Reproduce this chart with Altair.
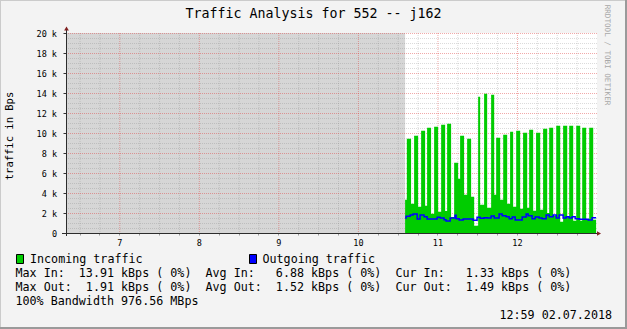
import altair as alt
import pandas as pd

MONO = "DejaVu Sans Mono"
NB = "\u00a0"

# ---- data -------------------------------------------------------------
# Incoming traffic: step start (minutes after 10:00) and value in Bps
in_minutes = [35.6, 36.9, 40.1, 42.4, 45.4, 47.7, 50.7, 52.2, 55.2, 57.5,
              60.5, 62.8, 65.8, 67.3, 70.3, 72.6, 75.6, 77.1, 80.1, 82.4,
              85.4, 87.7, 90.7, 92.2, 95.2, 97.5, 100.5, 102.8, 104.3, 107.3,
              109.6, 112.6, 114.8, 117.1, 119.4, 122.4, 124.6, 127.7, 129.2, 132.2,
              134.4, 137.5, 139.7, 142.8, 144.3, 147.3, 149.6, 152.6, 154.8, 157.9,
              159.4, 162.4, 164.7, 167.7, 169.2, 172.2, 174.5, 177.5, 179.7]
in_bps = [3330, 9430, 2930, 9730, 2630, 10230, 2730, 10530, 1930, 10630,
          2130, 10830, 2200, 10930, 1600, 7030, 5430, 9730, 3830, 9430,
          3630, 730, 13630, 2830, 13930, 2530, 13830, 3830, 9530, 3330,
          9830, 2930, 10130, 2630, 10230, 2430, 10030, 2530, 10330, 2230,
          10030, 2330, 10430, 2000, 10530, 1700, 10730, 1130, 10730, 1600,
          10730, 1230, 10730, 1230, 10530, 1400, 10530, 1330, 1330]

# Outgoing traffic: step start (minutes after 10:00) and value in Bps
out_minutes = [35.6, 36.4, 39.4, 41.6, 44.7, 46.9, 49.9, 52.2, 59.8, 62.0,
               65.0, 66.5, 69.6, 73.3, 74.1, 76.4, 79.4, 86.9, 89.9, 92.2,
               95.2, 97.5, 100.5, 102.8, 106.5, 108.8, 111.8, 114.1, 116.4, 118.6,
               123.9, 126.9, 128.4, 131.4, 133.7, 136.7, 139.0, 142.0, 144.3, 147.3,
               149.6, 151.8, 154.8, 157.1, 159.4, 161.6, 163.9, 166.9, 173.7, 176.7,
               179.7]
out_bps = [1500, 1670, 1800, 1900, 1400, 1800, 1630, 1400, 1570, 1500,
           1330, 1200, 1500, 1770, 1430, 1300, 1400, 1270, 1570, 1470,
           1530, 1500, 1700, 1500, 1900, 1730, 1630, 1430, 1600, 1300,
           1600, 1900, 1730, 1430, 1600, 1500, 1430, 1800, 1630, 1800,
           1500, 1800, 1500, 1630, 1500, 1630, 1430, 1370, 1300, 1530,
           1530]

time_window = [6.33, 13.006]          # hours of the day shown
y_major = [0, 2000, 4000, 6000, 8000, 10000, 12000, 14000, 16000, 18000, 20000]

title_text = "Traffic Analysis for 552 -- j162"
y_title = "traffic in Bps"
watermark = "RRDTOOL / TOBI OETIKER"
legend_in = "Incoming traffic"
legend_out = "Outgoing traffic"
stat_lines = [
    "Max In:  13.91 kBps ( 0%)  Avg In:   6.88 kBps ( 0%)  Cur In:   1.33 kBps ( 0%)",
    "Max Out:  1.91 kBps ( 0%)  Avg Out:  1.52 kBps ( 0%)  Cur Out:  1.49 kBps ( 0%)",
    "100% Bandwidth 976.56 MBps",
]
stamp = "12:59 02.07.2018"

# ---- tables -----------------------------------------------------------
df_in = pd.DataFrame({"hour": [10 + m / 60 for m in in_minutes], "bps": in_bps})
df_out = pd.DataFrame({"hour": [10 + m / 60 for m in out_minutes], "bps": out_bps})
first_sample = 10 + in_minutes[0] / 60
df_unknown = pd.DataFrame({"h0": [time_window[0]], "h1": [first_sample],
                           "v0": [0], "v1": [20000]})

quarters = [6.5 + 0.25 * i for i in range(26)]          # 6.5 .. 12.75
hours = [q for q in quarters if q % 1 == 0]
minor_x = pd.DataFrame({"hour": [q for q in quarters if q % 1 != 0]})
major_x = pd.DataFrame({"hour": hours})
minor_y = pd.DataFrame({"bps": [v for v in range(500, 20001, 500) if v % 2000 != 0]})
major_y = pd.DataFrame({"bps": y_major[1:]})
one = pd.DataFrame({"d": [0]})

xs = alt.Scale(domain=time_window, nice=False, zero=False)
ys = alt.Scale(domain=[0, 20000], nice=False)

xaxis = alt.Axis(values=quarters,
                 labelExpr=f"datum.value % 1 == 0 ? (datum.value < 10 ? '{NB}' + datum.value : '' + datum.value) : ''",
                 grid=False, domain=False, tickColor="#9a9a9a", tickSize=2,
                 labelPadding=3, labelFont=MONO, labelFontSize=8.5, labelColor="#000000",
                 labelFlush=False, labelOverlap=False, title=None)
yaxis = alt.Axis(values=y_major,
                 labelExpr=f"datum.value == 0 ? '0{NB}{NB}' : format(datum.value / 1000, 'd') + '{NB}k'",
                 grid=False, domain=False, tickColor="#333333", tickSize=3,
                 labelPadding=6.5, labelFont=MONO, labelFontSize=8.5, labelColor="#000000",
                 labelFlush=False, labelOverlap=False, title=None)

X = lambda f: alt.X(f"{f}:Q", scale=xs, axis=xaxis)
Y = lambda f: alt.Y(f"{f}:Q", scale=ys, axis=yaxis)

unknown = alt.Chart(df_unknown).mark_rect(color="#d6d6d6").encode(
    x=X("h0"), x2="h1", y=Y("v0"), y2="v1")

grid_minor_x = alt.Chart(minor_x).mark_rule(color="#7f7f7f", opacity=0.28, strokeDash=[1, 1],
                                            xOffset=0.5).encode(x=X("hour"))
grid_major_x = alt.Chart(major_x).mark_rule(color="#e04040", opacity=0.45, strokeDash=[1, 1],
                                            xOffset=0.5).encode(x=X("hour"))
grid_minor_y = alt.Chart(minor_y).mark_rule(color="#7f7f7f", opacity=0.28, strokeDash=[1, 1],
                                            yOffset=0.5).encode(y=Y("bps"))
grid_major_y = alt.Chart(major_y).mark_rule(color="#e04040", opacity=0.45, strokeDash=[1, 1],
                                            yOffset=0.5).encode(y=Y("bps"))

area_in = alt.Chart(df_in).mark_area(interpolate="step-after", color="#00cc00").encode(
    x=X("hour"), y=Y("bps"))
line_out = alt.Chart(df_out).mark_line(interpolate="step-after", color="#0000ff",
                                       strokeWidth=1.5).encode(x=X("hour"), y=Y("bps"))

base = alt.Chart(one)
AX = "#2c2c2c"
y_axis_line = base.mark_rule(color=AX, strokeWidth=1).encode(
    x=alt.value(0.5), y=alt.value(-4), y2=alt.value(203))
x_axis_line = base.mark_rule(color=AX, strokeWidth=1).encode(
    x=alt.value(-4), x2=alt.value(533), y=alt.value(200.5))
arrow_up = base.mark_point(shape="triangle-up", filled=True, size=22, color="#7f1f1f", opacity=1).encode(
    x=alt.value(0.5), y=alt.value(-4.5))
arrow_right = base.mark_point(shape="triangle-right", filled=True, size=22, color="#7f1f1f", opacity=1).encode(
    x=alt.value(533), y=alt.value(200.5))

frame_top = base.mark_rule(color="#cbcbcb", strokeWidth=1).encode(
    x=alt.value(-66), x2=alt.value(561), y=alt.value(-32.5))
frame_left = base.mark_rule(color="#cbcbcb", strokeWidth=1).encode(
    x=alt.value(-65.5), y=alt.value(-33), y2=alt.value(296))
frame_right = base.mark_rule(color="#9a9a9a", strokeWidth=2).encode(
    x=alt.value(560), y=alt.value(-33), y2=alt.value(296))
frame_bottom = base.mark_rule(color="#9a9a9a", strokeWidth=2).encode(
    x=alt.value(-66), x2=alt.value(561), y=alt.value(295))


def txt(s, x, y, size, align="left", angle=0, color="#000000"):
    return base.mark_text(font=MONO, fontSize=size, align=align, baseline="middle",
                          angle=angle, color=color).encode(
        x=alt.value(x), y=alt.value(y), text=alt.value(s.replace(" ", NB)))


title = txt(title_text, 247.5, -19, 13.3, align="center")
ytitle = txt(y_title, -56, 103, 10.5, align="center", angle=270)
wmark = txt(watermark, 541, 22, 7.6, align="center", angle=90, color="#a8a8a8")

box_in = base.mark_rect(color="#00cc00", stroke="#000000", strokeWidth=1).encode(
    x=alt.value(-49.5), x2=alt.value(-42.5), y=alt.value(221.5), y2=alt.value(230.5))
box_out = base.mark_rect(color="#0000ff", stroke="#000000", strokeWidth=1).encode(
    x=alt.value(183.5), x2=alt.value(190.5), y=alt.value(221.5), y2=alt.value(230.5))
leg_in = txt(legend_in, -36, 226, 11.7)
leg_out = txt(legend_out, 196.5, 226, 11.7)
rows = [txt(s, -50.5, 240.3 + 14 * i, 11.7) for i, s in enumerate(stat_lines)]
stamp_t = txt(stamp, 546, 282.3, 11.7, align="right")

chart = alt.layer(
    unknown, grid_minor_x, grid_minor_y, grid_major_x, grid_major_y,
    area_in, line_out,
    y_axis_line, x_axis_line, arrow_up, arrow_right,
    frame_top, frame_left, frame_right, frame_bottom,
    title, ytitle, wmark, box_in, box_out, leg_in, leg_out, *rows, stamp_t,
).properties(
    width=531, height=200, background="#f3f3f3",
    padding={"left": 66, "top": 33, "right": 30, "bottom": 96},
    autosize=alt.AutoSizeParams(type="none"),
).configure_view(stroke=None, fill="#ffffff")

chart.save("out.html", embed_options={"renderer": "svg", "actions": False})
